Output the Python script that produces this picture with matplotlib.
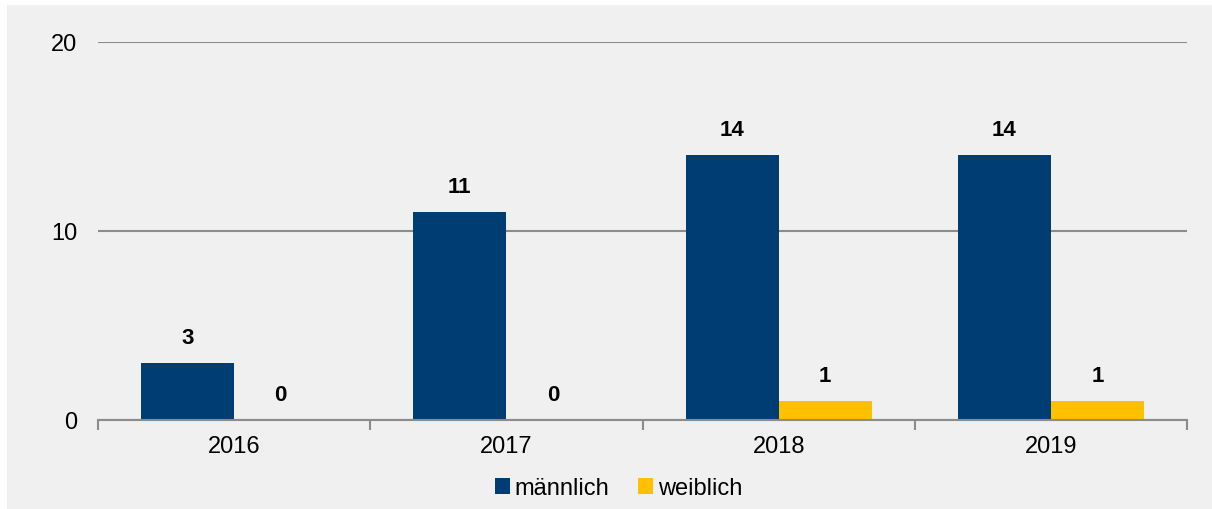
import numpy as np
import matplotlib
matplotlib.use("Agg")
import matplotlib.pyplot as plt
from matplotlib.patches import Rectangle

years = ["2016", "2017", "2018", "2019"]
maennlich = [3, 11, 14, 14]
weiblich = [0, 0, 1, 1]

BLUE = "#003D73"
YELLOW = "#FFC000"
BG = "#F0F0F0"
GRID = "#8C8C8C"
FS = 17

plt.rcParams["font.family"] = ["Liberation Sans", "DejaVu Sans"]

fig = plt.figure(figsize=(12.12, 5.1), dpi=100)
fig.patch.set_facecolor("white")
# grey panel with a thin white margin on the left/top
fig.patches.append(Rectangle((7 / 1212, 0), 1 - 7 / 1212, 1 - 6 / 510,
                             transform=fig.transFigure, facecolor=BG,
                             edgecolor="none", zorder=-10))

ax = fig.add_axes([98 / 1212, 1 - 421 / 510, (1187 - 98) / 1212, (421 - 43) / 510])
ax.set_facecolor("none")

x = np.arange(len(years))
w = 0.342
b1 = ax.bar(x - w / 2, maennlich, w, color=BLUE, label="männlich", zorder=3)
b2 = ax.bar(x + w / 2, weiblich, w, color=YELLOW, label="weiblich", zorder=3)

for bars, vals in ((b1, maennlich), (b2, weiblich)):
    for r, v in zip(bars, vals):
        ax.annotate(f"{v}", (r.get_x() + r.get_width() / 2, v),
                    xytext=(0, 11), textcoords="offset points",
                    ha="center", va="bottom", fontsize=FS - 1, fontweight="bold")

ax.set_xlim(-0.5, len(years) - 0.5)
ax.set_ylim(0, 20)
ax.set_yticks([0, 10, 20])
ax.yaxis.grid(True, color=GRID, lw=1.5, zorder=0)
ax.tick_params(axis="y", length=0, pad=15, labelsize=FS)

# category labels centred, tick marks at the category boundaries
ax.set_xticks(x)
ax.set_xticklabels(years, fontsize=FS)
ax.tick_params(axis="x", which="major", length=0, pad=11)
ax.set_xticks(np.arange(-0.5, len(years)), minor=True)
ax.tick_params(axis="x", which="minor", length=7, width=1.5, color=GRID)

for s in ("top", "right", "left"):
    ax.spines[s].set_visible(False)
ax.spines["bottom"].set_color(GRID)
ax.spines["bottom"].set_linewidth(1.5)
ax.spines["bottom"].set_zorder(4)

ax.legend(loc="center", bbox_to_anchor=(0.478, -0.18), ncol=2, frameon=False,
          fontsize=FS, handlelength=0.65, handleheight=0.65, handletextpad=0.2,
          columnspacing=1.2)

fig.savefig("out.png", dpi=100, facecolor=fig.get_facecolor())
